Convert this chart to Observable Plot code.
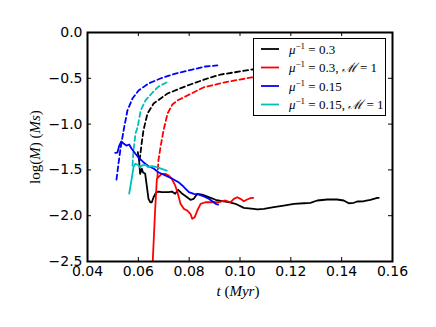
<!DOCTYPE html>
<html>
<head>
<meta charset="utf-8">
<script src="https://cdn.jsdelivr.net/npm/d3@7"></script>
<script src="https://cdn.jsdelivr.net/npm/@observablehq/plot@0.6"></script>
<style>
html,body{margin:0;padding:0;background:#fff;}
</style>
</head>
<body>
<div id="chart"></div>
<script>
// tick values
const xTicks = [0.04, 0.06, 0.08, 0.10, 0.12, 0.14, 0.16];
const yTicks = [0, -0.5, -1.0, -1.5, -2.0, -2.5];

// dashed series
const blackDashT = [0.0605,0.0612,0.0620,0.0636,0.0660,0.0715,0.0793,0.0872,0.0923,0.1049,0.1065];
const blackDashV = [-1.397,-1.234,-1.070,-0.884,-0.775,-0.666,-0.579,-0.502,-0.459,-0.404,-0.400];
const redDashT = [0.0675,0.0679,0.0687,0.0699,0.0715,0.0734,0.0754,0.0793,0.0856,0.0935,0.1045,0.1065];
const redDashV = [-1.583,-1.397,-1.255,-1.070,-0.884,-0.786,-0.742,-0.688,-0.600,-0.546,-0.491,-0.485];
const blueDashT = [0.0514,0.0522,0.0530,0.0542,0.0557,0.0577,0.0601,0.0640,0.0687,0.0746,0.0813,0.0864,0.0911];
const blueDashV = [-1.605,-1.430,-1.266,-1.070,-0.852,-0.720,-0.633,-0.557,-0.502,-0.448,-0.404,-0.371,-0.360];
const cyanDashT = [0.0577,0.0581,0.0589,0.0597,0.0609,0.0628,0.0656,0.0679,0.0711];
const cyanDashV = [-1.452,-1.288,-1.100,-1.037,-0.852,-0.742,-0.655,-0.590,-0.546];

// solid series
const blackT = [0.0598,0.0603,0.0607,0.0614,0.0618,0.0627,0.0633,0.0640,0.0647,0.0653,0.0660,0.0669,0.0679,0.0692,0.0706,0.0719,0.0732,0.0745,0.0757,0.0773,0.0792,0.0805,0.0818,0.0832,0.0851,0.0877,0.0904,0.0930,0.0956,0.0982,0.1015,0.1054,0.1068,0.1094,0.1133,0.1172,0.1212,0.1251,0.1277,0.1304,0.1343,0.1382,0.1408,0.1428,0.1448,0.1461,0.1487,0.1513,0.1540,0.1546];
const blackV = [-1.307,-1.397,-1.543,-1.488,-1.525,-1.543,-1.670,-1.816,-1.853,-1.853,-1.798,-1.750,-1.736,-1.743,-1.743,-1.743,-1.736,-1.761,-1.717,-1.761,-1.798,-1.826,-1.816,-1.761,-1.769,-1.798,-1.826,-1.842,-1.853,-1.870,-1.914,-1.925,-1.932,-1.925,-1.907,-1.889,-1.870,-1.864,-1.859,-1.834,-1.823,-1.823,-1.834,-1.864,-1.859,-1.845,-1.842,-1.826,-1.805,-1.805];
const redT = [0.0655,0.0666,0.0673,0.0679,0.0692,0.0706,0.0719,0.0732,0.0745,0.0754,0.0766,0.0779,0.0792,0.0805,0.0812,0.0822,0.0832,0.0845,0.0864,0.0891,0.0917,0.0943,0.0963,0.0976,0.0989,0.1002,0.1015,0.1028,0.1041,0.1052];
const redV = [-2.60,-1.943,-1.597,-1.580,-1.543,-1.543,-1.561,-1.597,-1.670,-1.743,-1.870,-1.925,-1.943,-1.979,-2.034,-2.016,-1.943,-1.870,-1.853,-1.853,-1.853,-1.834,-1.853,-1.816,-1.798,-1.816,-1.842,-1.823,-1.809,-1.805];
const blueT = [0.0509,0.0518,0.0525,0.0533,0.0542,0.0553,0.0564,0.0573,0.0588,0.0603,0.0620,0.0640,0.0660,0.0679,0.0706,0.0730,0.0758,0.0773,0.0786,0.0799,0.0818,0.0838,0.0858,0.0877,0.0891,0.0904,0.0914];
const blueV = [-1.313,-1.310,-1.234,-1.190,-1.212,-1.234,-1.223,-1.266,-1.321,-1.372,-1.416,-1.460,-1.485,-1.525,-1.561,-1.591,-1.634,-1.670,-1.706,-1.743,-1.761,-1.769,-1.790,-1.815,-1.841,-1.870,-1.878];
const cyanT = [0.0564,0.0574,0.0581,0.0588,0.0598,0.0607,0.0614,0.0627,0.0640,0.0653,0.0673,0.0692,0.0712];
const cyanV = [-1.758,-1.594,-1.470,-1.433,-1.444,-1.470,-1.452,-1.444,-1.470,-1.460,-1.470,-1.488,-1.507];

// legend
const legendColors = ["#000000", "#ff0000", "#0000ff", "#00bfbf"];
const legendValues = ["0.3", "0.3", "0.15", "0.15"];
const legendMach = [false, true, false, true];

const mk = (t, v) => t.map((d, i) => ({t: d, v: v[i]}));

const W = 436, H = 327, mL = 87, mR = 44, mT = 32, mB = 66;
const innerH = H - mT - mB, innerW = W - mL - mR;
const dash = "5,3.2";
const lw = 1.8;

const svg = Plot.plot({
  width: W, height: H,
  marginLeft: mL, marginRight: mR, marginTop: mT, marginBottom: mB,
  x: {domain: [0.04, 0.16]},
  y: {domain: [-2.5, 0]},
  style: {fontFamily: "DejaVu Sans", fontSize: "14px", color: "black", background: "white"},
  marks: [
    Plot.line(mk(blackDashT, blackDashV), {x: "t", y: "v", stroke: legendColors[0], strokeWidth: lw, strokeDasharray: dash, clip: true}),
    Plot.line(mk(redDashT, redDashV), {x: "t", y: "v", stroke: legendColors[1], strokeWidth: lw, strokeDasharray: dash, clip: true}),
    Plot.line(mk(blueDashT, blueDashV), {x: "t", y: "v", stroke: legendColors[2], strokeWidth: lw, strokeDasharray: dash, clip: true}),
    Plot.line(mk(cyanDashT, cyanDashV), {x: "t", y: "v", stroke: legendColors[3], strokeWidth: lw, strokeDasharray: dash, clip: true}),
    Plot.line(mk(blackT, blackV), {x: "t", y: "v", stroke: legendColors[0], strokeWidth: lw, clip: true}),
    Plot.line(mk(redT, redV), {x: "t", y: "v", stroke: legendColors[1], strokeWidth: lw, clip: true}),
    Plot.line(mk(blueT, blueV), {x: "t", y: "v", stroke: legendColors[2], strokeWidth: lw, clip: true}),
    Plot.line(mk(cyanT, cyanV), {x: "t", y: "v", stroke: legendColors[3], strokeWidth: lw, clip: true}),
    // inward ticks on four sides
    Plot.ruleX(xTicks, {x: d => d, insetTop: innerH - 4, stroke: "black", strokeWidth: 1}),
    Plot.ruleX(xTicks, {x: d => d, insetBottom: innerH - 4, stroke: "black", strokeWidth: 1}),
    Plot.ruleY(yTicks, {y: d => d, insetRight: innerW - 4, stroke: "black", strokeWidth: 1}),
    Plot.ruleY(yTicks, {y: d => d, insetLeft: innerW - 4, stroke: "black", strokeWidth: 1}),
    Plot.axisX({ticks: xTicks, tickFormat: d3.format(".2f"), tickSize: 0, tickPadding: 5, label: null, fontSize: 14}),
    Plot.axisY({ticks: yTicks, tickFormat: d3.format(".1f"), tickSize: 0, tickPadding: 5, label: null, fontSize: 14}),
    Plot.frame({stroke: "black", strokeWidth: 2})
  ]
});

const s = d3.select(svg);
const serif = "Liberation Serif";

// x label
const xl = s.append("text")
  .attr("x", 238).attr("y", 296)
  .attr("text-anchor", "middle")
  .attr("font-family", serif).attr("font-size", 15).attr("fill", "black");
xl.append("tspan").attr("font-style", "italic").text("t");
xl.append("tspan").text(" (");
xl.append("tspan").attr("font-style", "italic").text("Myr");
xl.append("tspan").text(")");

// y label
const yl = s.append("text")
  .attr("transform", "translate(40,147) rotate(-90)")
  .attr("text-anchor", "middle")
  .attr("font-family", serif).attr("font-size", 15).attr("fill", "black");
yl.append("tspan").text("log(");
yl.append("tspan").attr("font-style", "italic").text("M");
yl.append("tspan").text(") (");
yl.append("tspan").attr("font-style", "italic").text("Ms");
yl.append("tspan").text(")");

// legend
const lg = s.append("g").attr("text-anchor", "start");
lg.append("rect").attr("x", 253.5).attr("y", 38.5).attr("width", 132).attr("height", 77)
  .attr("fill", "white").attr("stroke", "black").attr("stroke-width", 1);
const rowY = [49, 67.5, 86, 104.5];
legendColors.forEach((c, i) => {
  lg.append("line").attr("x1", 261).attr("x2", 279).attr("y1", rowY[i]).attr("y2", rowY[i])
    .attr("stroke", c).attr("stroke-width", lw);
  const t = lg.append("text").attr("x", 289).attr("y", rowY[i] + 4.5)
    .attr("text-anchor", "start")
    .attr("font-family", serif).attr("font-size", 13).attr("fill", "black");
  t.append("tspan").attr("font-style", "italic").text("μ");
  t.append("tspan").attr("font-size", 9).attr("dy", -5).text("−1");
  t.append("tspan").attr("dy", 5).text(" = " + legendValues[i]);
  if (legendMach[i]) {
    t.append("tspan").text(", ");
    t.append("tspan").attr("font-style", "italic").text("ℳ");
    t.append("tspan").text(" = 1");
  }
});

document.getElementById("chart").appendChild(svg);
</script>
</body>
</html>
